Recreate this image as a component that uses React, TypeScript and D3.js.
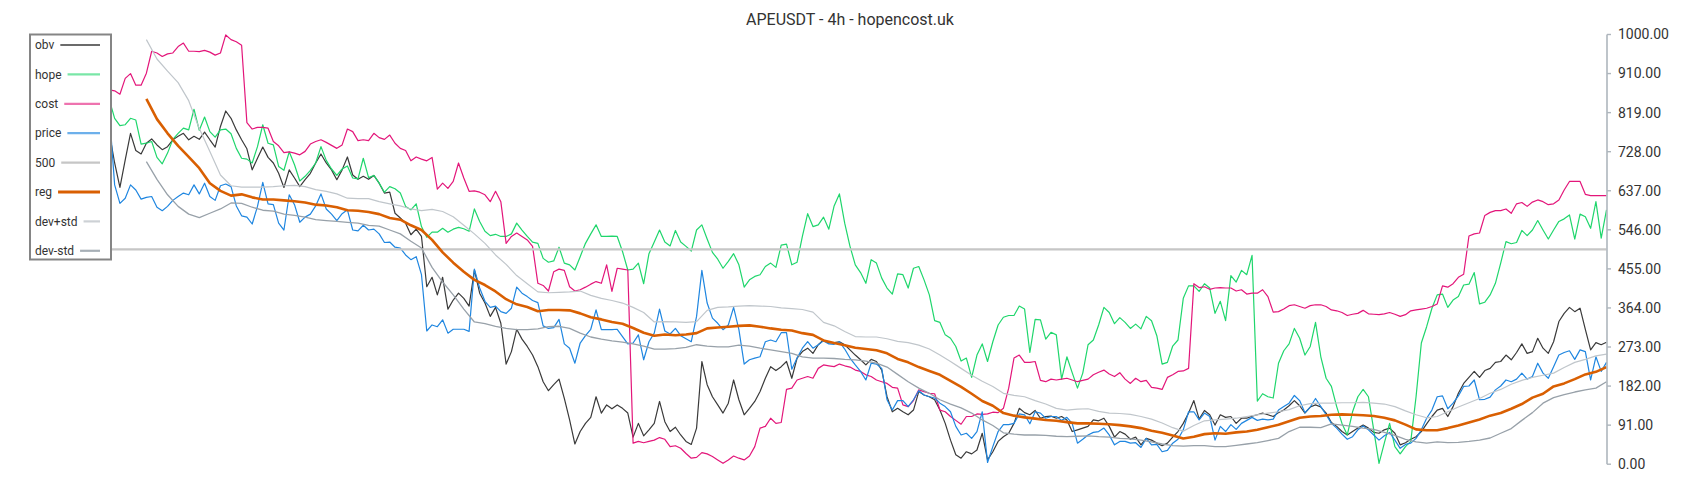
import React from 'react';
import * as d3 from 'd3';

const TITLE = 'APEUSDT - 4h - hopencost.uk';

// noisy series: one value per 4h bar (299 bars)
const OBV: number[] = [
  780, 795, 810, 790, 775, 768, 785, 800, 790, 778, 770, 782, 795, 788, 776,
  771,
  701, 644, 708, 770, 730, 722, 747, 757, 743, 732, 739, 755, 763, 770, 755, 763, 756, 773, 755, 738,
  786, 822, 805, 778, 755, 734, 685, 712, 738, 714, 701, 677, 644, 685, 666, 646, 662, 677, 701, 722,
  701, 685, 662, 685, 715, 673, 663, 670, 663, 672, 654, 631, 633, 584,
  573, 561, 534, 547, 530, 413, 435, 394, 435, 361, 382, 398, 386, 368, 452, 398, 375, 344, 365, 328,
  233, 262, 314, 291, 274, 254, 227, 192, 171, 185, 198, 153, 103, 47, 76, 95, 109, 157, 119, 138,
  129, 138, 130, 119, 63, 95, 66, 80, 95, 146, 99, 76, 86, 68, 53, 46, 84,
  239, 185, 157, 138, 119, 142, 196, 150, 115, 130, 146, 169, 200, 227, 218, 227, 239, 200, 247, 262,
  270, 258, 278, 289, 282, 283, 285, 278, 266, 254, 243, 231, 244, 239, 219, 157, 122, 130, 122, 115,
  126, 169, 161, 157, 150, 126, 95, 56, 22, 14, 29, 24, 33, 72, 10, 29, 53,
  64, 72, 95, 130, 120, 115, 125, 107, 111, 112, 107, 111, 103, 76, 80, 84, 88, 103, 101, 107,
  88, 63, 76, 70, 58, 63, 45, 60, 56, 49, 43, 49, 63, 76, 95, 119, 148, 105, 125, 115,
  91, 115, 109, 111, 95, 107, 107, 112, 115, 119, 115, 111, 120, 126, 136, 148,
  136, 119, 133, 138, 133, 119, 97, 88, 76, 68, 76, 84, 91, 84, 74, 72, 80, 84, 72, 45,
  50, 58, 64, 76, 94, 111, 126, 130, 111, 134, 165, 188, 202, 216, 202, 218, 223, 237, 239, 254,
  243, 260, 280, 258, 262, 293, 270, 258, 285, 332, 351, 365, 355, 363, 314, 266, 283, 278, 284,
];

const HOPE: number[] = [
  845, 852, 860, 840, 835, 850, 858, 846, 838, 850, 856, 842, 836, 848, 855,
  848,
  805, 788, 790, 805, 801, 745, 747, 751, 714, 699, 724, 756, 770, 782, 778, 826, 777, 808, 774, 761,
  778, 780, 769, 735, 712, 710, 701, 739, 790, 747, 743, 693, 684, 727, 697, 659, 670, 684, 701, 739,
  707, 687, 672, 687, 694, 666, 664, 712, 667, 672, 654, 633, 646, 641,
  631, 600, 592, 606, 553, 528, 540, 540, 549, 540, 547, 551, 548, 542, 594, 565, 542, 532, 535, 530,
  530, 536, 561, 545, 530, 517, 514, 479, 470, 473, 505, 468, 464, 452, 483, 514, 536, 557, 530, 530,
  531, 530, 495, 452, 454, 468, 420, 490, 517, 545, 517, 508, 544, 517, 507, 496, 545,
  557, 524, 493, 477, 456, 472, 490, 464, 412, 429, 437, 441, 460, 468, 458, 510, 512, 464, 470, 530,
  583, 553, 557, 575, 547, 601, 629, 561, 507, 464, 446, 421, 476, 468, 433, 410, 396, 443, 441, 410,
  456, 460, 429, 394, 334, 330, 301, 293, 274, 240, 247, 202, 254, 280, 239, 285, 324,
  342, 346, 346, 368, 361, 260, 337, 336, 291, 307, 301, 198, 250, 213, 177, 212, 278, 289, 324, 365,
  353, 327, 341, 330, 316, 326, 315, 344, 334, 299, 233, 237, 275, 289, 386, 415, 415, 402, 420, 410,
  351, 379, 334, 439, 424, 451, 441, 486, 147, 164, 157, 154, 235, 264, 280, 316,
  293, 254, 274, 330, 250, 200, 181, 134, 95, 68, 122, 157, 174, 157, 80, 2, 49, 95, 41, 24,
  41, 53, 157, 282, 320, 363, 394, 396, 365, 382, 390, 417, 419, 446, 373, 377, 394, 421, 468, 518,
  513, 516, 544, 532, 545, 567, 545, 524, 545, 565, 571, 580, 524, 582, 576, 549, 611, 526, 592,
];

const COST: number[] = [
  865, 872, 880, 868, 875, 885, 878, 870, 862, 874, 880, 868, 860, 866, 872,
  871,
  869, 861, 898, 909, 882, 882, 910, 961, 957, 949, 955, 957, 972, 980, 961, 961, 960, 963, 959, 952,
  957, 999, 988, 983, 975, 795, 780, 784, 784, 782, 751, 741, 725, 727, 724, 720, 728, 745, 751, 755,
  749, 742, 735, 743, 780, 774, 753, 755, 753, 770, 760, 756, 766, 747,
  735, 730, 706, 715, 710, 706, 714, 640, 654, 642, 658, 701, 666, 635, 636, 633, 627, 611, 635, 611,
  514, 530, 538, 530, 522, 507, 421, 416, 403, 448, 454, 451, 413, 403, 406, 412, 419, 425, 421, 464,
  402, 456, 454, 452, 49, 53, 50, 53, 56, 62, 58, 41, 43, 37, 25, 14, 16,
  27, 24, 18, 10, 2, 10, 19, 14, 10, 19, 41, 84, 88, 107, 95, 97, 174, 177, 196, 200,
  204, 200, 223, 231, 229, 227, 233, 229, 226, 219, 216, 208, 204, 196, 192, 188, 179, 177, 138, 134,
  148, 173, 169, 165, 164, 126, 122, 111, 102, 93, 111, 111, 117, 116, 117, 121, 120,
  130, 177, 247, 254, 237, 237, 239, 195, 192, 198, 196, 198, 200, 196, 192, 195, 198, 208, 214, 219,
  210, 204, 213, 198, 188, 200, 192, 195, 179, 177, 174, 202, 208, 216, 217, 223, 420, 411, 413, 407,
  410, 411, 410, 410, 403, 406, 396, 398, 398, 406, 390, 354, 355, 361, 369, 371,
  367, 363, 369, 371, 371, 367, 359, 357, 353, 346, 349, 351, 358, 350, 349, 348, 350, 353, 349, 344,
  348, 357, 359, 361, 363, 367, 373, 415, 412, 420, 435, 442, 531, 536, 538, 579, 586, 590, 590, 594,
  584, 606, 609, 600, 610, 615, 611, 604, 606, 615, 638, 658, 658, 658, 628, 625, 625, 625, 625,
];

const PRICE: number[] = [
  830, 845, 838, 826, 840, 852, 835, 828, 842, 848, 832, 825, 838, 846, 834,
  818,
  650, 607, 619, 650, 638, 617, 621, 623, 598, 590, 600, 614, 623, 631, 627, 650, 629, 654, 623, 614,
  648, 652, 646, 601, 578, 575, 559, 600, 656, 606, 604, 561, 545, 627, 604, 563, 575, 582, 601, 629,
  594, 582, 567, 583, 592, 545, 543, 556, 545, 547, 536, 516, 517, 505,
  503, 487, 476, 483, 441, 310, 324, 320, 336, 305, 314, 314, 314, 309, 454, 410, 379, 365, 368, 355,
  351, 363, 412, 398, 390, 381, 376, 322, 316, 318, 337, 280, 270, 235, 282, 299, 314, 359, 313, 313,
  313, 314, 297, 280, 282, 301, 243, 285, 305, 361, 310, 303, 316, 299, 292, 285, 344,
  451, 375, 340, 328, 313, 324, 365, 313, 233, 243, 247, 250, 285, 289, 285, 306, 306, 221, 247, 270,
  285, 270, 278, 287, 280, 279, 285, 268, 247, 231, 216, 196, 235, 233, 223, 150, 126, 148, 148, 134,
  150, 171, 161, 157, 154, 142, 134, 122, 88, 68, 72, 60, 76, 122, 4, 41, 76,
  92, 92, 95, 117, 115, 94, 122, 119, 107, 111, 111, 102, 109, 95, 49, 58, 68, 74, 76, 84,
  68, 45, 53, 53, 49, 50, 39, 60, 45, 46, 29, 32, 49, 58, 80, 122, 122, 103, 119, 111,
  56, 88, 76, 92, 81, 95, 102, 109, 102, 105, 103, 105, 126, 134, 142, 160,
  148, 120, 133, 153, 134, 115, 95, 84, 70, 58, 64, 80, 89, 80, 68, 56, 66, 74, 56, 37,
  46, 49, 60, 80, 107, 126, 157, 159, 129, 142, 159, 181, 182, 196, 150, 151, 156, 173, 182, 196,
  192, 198, 212, 198, 204, 235, 212, 200, 227, 254, 260, 264, 244, 266, 262, 196, 250, 216, 237,
];

const LEVEL_500 = 500;

// smooth series: one value every second bar (150 points)
const REG: (number | null)[] = [
  null, null, null, null, null, null, null, null, null, null, null,
  850, 803, 770, 741, 715, 689, 654,
  636, 625, 628, 621, 616, 616, 614, 612, 609, 604,
  602, 598, 591, 590, 587, 582, 573,
  569, 556, 545, 522, 493, 469, 448, 429, 417, 402,
  384, 372, 366, 356, 359, 359, 358, 351, 342, 337,
  331, 327, 317, 306, 299, 302, 300, 302, 305,
  316, 318, 320, 322, 323, 320, 316, 313, 311, 305,
  301, 288, 282, 277, 271, 268, 265, 258, 245, 237,
  226, 217, 208, 194, 180, 164, 147, 136,
  119, 113, 109, 106, 103, 101, 98, 95, 95, 94,
  93, 91, 88, 84, 78, 73, 67, 60, 64, 70,
  72, 71, 74, 76, 80, 86, 92, 100,
  108, 111, 112, 115, 116, 115, 114, 112, 108, 102,
  92, 81, 79, 79, 84, 90, 97, 104, 113, 119,
  129, 140, 155, 164, 181, 188, 198, 209, 215, 226,
];

const DEV_PLUS: (number | null)[] = [
  null, null, null, null, null, null, null, null, null, null, null,
  988, 943, 915, 888, 846, 781, 728,
  673, 648, 645, 645, 645, 646, 648, 649, 646, 639,
  635, 629, 619, 618, 618, 611, 606,
  601, 594, 590, 593, 588, 576, 556, 536, 514, 487,
  465, 439, 420, 401, 399, 400, 401, 403, 393, 386,
  381, 375, 365, 353, 331, 332, 331, 330, 332,
  358, 365, 366, 368, 369, 368, 367, 364, 362, 360,
  354, 330, 322, 309, 297, 296, 296, 292, 286, 283,
  277, 268, 254, 239, 223, 207, 193, 181,
  165, 160, 157, 148, 140, 130, 126, 128, 129, 123,
  119, 118, 116, 111, 105, 96, 85, 77, 90, 101,
  103, 105, 107, 111, 115, 119, 122, 127,
  136, 141, 142, 142, 143, 143, 144, 142, 140, 134,
  124, 115, 108, 111, 122, 133, 143, 153, 165, 174,
  186, 195, 202, 207, 212, 225, 237, 244, 252, 256,
];

const DEV_MINUS: (number | null)[] = [
  null, null, null, null, null, null, null, null, null, null, null,
  704, 663, 627, 600, 582, 574, 584,
  594, 608, 607, 598, 591, 589, 582, 579, 575, 569,
  567, 565, 563, 561, 556, 554, 545,
  536, 519, 503, 458, 424, 394, 361, 331, 327, 321,
  316, 313, 313, 315, 320, 321, 316, 305, 296, 291,
  287, 284, 280, 275, 268, 268, 269, 272, 278,
  275, 273, 273, 277, 275, 270, 266, 262, 258, 250,
  247, 247, 246, 244, 243, 240, 235, 226, 209, 192,
  177, 165, 150, 140, 131, 119, 103, 90,
  73, 70, 68, 68, 67, 65, 64, 65, 66, 64,
  63, 60, 59, 56, 52, 47, 43, 42, 43, 43,
  41, 41, 44, 47, 50, 55, 60, 76,
  86, 86, 85, 94, 91, 88, 84, 81, 74, 67,
  58, 52, 49, 52, 50, 51, 53, 56, 61, 72,
  83, 102, 120, 142, 155, 162, 168, 173, 177, 192,
];

const TICK_VALUES = [0, 1, 2, 3, 4, 5, 6, 7, 8, 9, 10, 11].map((k) => (k * 1000) / 11);
const TICK_LABELS = ['0.00', '91.00', '182.00', '273.00', '364.00', '455.00', '546.00', '637.00', '728.00', '819.00', '910.00', '1000.00'];

const SERIES_NAMES = ['obv', 'hope', 'cost', 'price', '500', 'reg', 'dev+std', 'dev-std'];

const FONT = "Roboto, 'Noto Sans', 'DejaVu Sans', sans-serif";

const STYLE: Record<string, { color: string; width: number; legendOpacity: number }> = {
  obv: { color: '#3a3a3a', width: 1.2, legendOpacity: 0.75 },
  hope: { color: '#1fd66c', width: 1.2, legendOpacity: 0.6 },
  cost: { color: '#e3167a', width: 1.2, legendOpacity: 0.6 },
  price: { color: '#1f86e0', width: 1.2, legendOpacity: 0.65 },
  '500': { color: '#c6c6c6', width: 2.2, legendOpacity: 1 },
  reg: { color: '#d95f02', width: 2.6, legendOpacity: 1 },
  'dev+std': { color: '#c0c6cb', width: 1.2, legendOpacity: 0.8 },
  'dev-std': { color: '#98a1a9', width: 1.3, legendOpacity: 0.85 },
};

function textWidth(s: string, font: string): number {
  if (typeof document === 'undefined') return s.length * 6.5;
  const c = document.createElement('canvas');
  const ctx = c.getContext('2d');
  if (!ctx) return s.length * 6.5;
  ctx.font = font;
  return ctx.measureText(s).width;
}

export default function App() {
  const W = 1700;
  const H = 500;
  const left = 30;
  const right = 1606.5;
  const top = 34.5;
  const bottom = 464.2;

  const y = d3.scaleLinear().domain([0, 1000]).range([bottom, top]);

  const pathFor = (data: (number | null)[]) => {
    const x = d3.scaleLinear().domain([0, data.length - 1]).range([left, right]);
    return (
      d3
        .line<number | null>()
        .defined((d) => d !== null)
        .x((_, i) => x(i))
        .y((d) => y(d as number))(data) || ''
    );
  };

  const dataByName: Record<string, (number | null)[]> = {
    obv: OBV,
    hope: HOPE,
    cost: COST,
    price: PRICE,
    reg: REG,
    'dev+std': DEV_PLUS,
    'dev-std': DEV_MINUS,
  };

  const legendX = 30;
  const legendY = 34.5;
  const legendW = 81;
  const legendH = 225;
  const legendFont = `12px ${FONT}`;

  return (
    <svg
      width={W}
      height={H}
      style={{ position: 'absolute', left: 0, top: 0, display: 'block', background: '#fff' }}
      fontFamily={FONT}
    >
      <rect x={0} y={0} width={W} height={H} fill="#fff" />
      <text x={850} y={24.5} textAnchor="middle" fontSize={16} fill="#333">
        {TITLE}
      </text>

      {SERIES_NAMES.map((name) => {
        const st = STYLE[name];
        if (name === '500') {
          return (
            <line
              key={name}
              x1={left}
              x2={right}
              y1={y(LEVEL_500)}
              y2={y(LEVEL_500)}
              stroke={st.color}
              strokeWidth={st.width}
            />
          );
        }
        return (
          <path
            key={name}
            d={pathFor(dataByName[name])}
            fill="none"
            stroke={st.color}
            strokeWidth={st.width}
            strokeLinejoin="round"
          />
        );
      })}

      {/* right axis */}
      <g>
        <line x1={1607} x2={1607} y1={y(0)} y2={y(1000)} stroke="#aeb6bd" strokeWidth={1.6} />
        {TICK_VALUES.map((v, i) => (
          <g key={i} transform={`translate(1607,${y(v)})`}>
            <line x1={0} x2={4} y1={0} y2={0} stroke="#aeb6bd" strokeWidth={1.4} />
            <text x={11} dy="0.35em" fontSize={14} fill="#333">
              {TICK_LABELS[i]}
            </text>
          </g>
        ))}
      </g>

      {/* legend */}
      <g>
        <rect
          x={legendX}
          y={legendY}
          width={legendW}
          height={legendH}
          fill="#fff"
          stroke="#858585"
          strokeWidth={2}
        />
        {SERIES_NAMES.map((name, i) => {
          const cy = legendY + 10.5 + i * 29.4;
          const tw = textWidth(name, legendFont);
          const st = STYLE[name];
          return (
            <g key={name}>
              <text x={legendX + 5} y={cy} dy="0.35em" fontSize={12} fill="#333">
                {name}
              </text>
              <line
                x1={legendX + 5 + tw + 6}
                x2={legendX + 70}
                y1={cy}
                y2={cy}
                stroke={st.color}
                strokeOpacity={st.legendOpacity}
                strokeWidth={name === 'reg' ? 3 : 2.2}
              />
            </g>
          );
        })}
      </g>
    </svg>
  );
}
